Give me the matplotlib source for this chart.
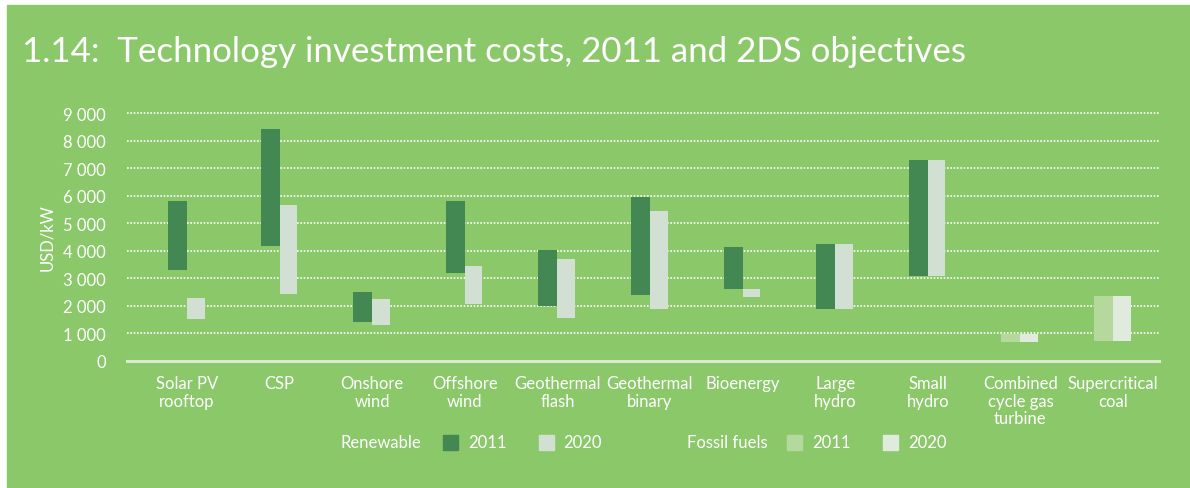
import matplotlib
matplotlib.use("Agg")
import matplotlib.pyplot as plt
from matplotlib.patches import Rectangle

plt.rcParams['font.family'] = ['Lato', 'DejaVu Sans']

# data (USD/kW)
categories = ["Solar PV\nrooftop", "CSP", "Onshore\nwind", "Offshore\nwind",
              "Geothermal\nflash", "Geothermal\nbinary", "Bioenergy",
              "Large\nhydro", "Small\nhydro", "Combined\ncycle gas\nturbine",
              "Supercritical\ncoal"]
is_fossil = [False] * 9 + [True] * 2
low_2011 = [3300, 4170, 1410, 3190, 1990, 2390, 2610, 1880, 3080, 680, 720]
high_2011 = [5810, 8430, 2500, 5810, 4030, 5950, 4140, 4250, 7300, 970, 2350]
low_2020 = [1520, 2430, 1300, 2060, 1550, 1880, 2320, 1880, 3080, 680, 720]
high_2020 = [2280, 5660, 2240, 3440, 3700, 5450, 2610, 4250, 7300, 970, 2350]
yticks = [0, 1000, 2000, 3000, 4000, 5000, 6000, 7000, 8000, 9000]

BG = "#8ac86a"
REN_2011 = "#438752"
REN_2020 = "#d2e0d4"
FOS_2011 = "#b5d89c"
FOS_2020 = "#e0ebdd"
WHITE = "#ffffff"

W, H = 1190, 489
fig = plt.figure(figsize=(W / 100, H / 100), dpi=100, facecolor="white")

# green panel
fig.patches.append(Rectangle((7 / W, 0), 1 - 7 / W, (H - 6) / H,
                             transform=fig.transFigure, color=BG, zorder=-10))

fig.text(22 / W, 1 - 52 / H, "1.14:  Technology investment costs, 2011 and 2DS objectives",
         color=WHITE, fontsize=25.1, va="center", ha="left")

ax = fig.add_axes([127 / W, 1 - 361.7 / H, (1159 - 127) / W, (361.7 - 114.3) / H])
ax.set_facecolor("none")

x = list(range(len(categories)))
c11 = [FOS_2011 if f else REN_2011 for f in is_fossil]
c20 = [FOS_2020 if f else REN_2020 for f in is_fossil]
h11 = [h - l for h, l in zip(high_2011, low_2011)]
h20 = [h - l for h, l in zip(high_2020, low_2020)]
ax.bar(x, h11, bottom=low_2011, width=-0.205, align="edge", color=c11, zorder=3)
ax.bar(x, h20, bottom=low_2020, width=0.19, align="edge", color=c20, zorder=3)

ax.set_xlim(-0.648, 10.497)
ax.set_ylim(0, 9000)
for v in yticks[1:]:
    ax.axhline(v, color=WHITE, linestyle=(0, (1, 1)), linewidth=1.2, zorder=1, clip_on=False)
ax.axhline(0, color="#d8ead0", linewidth=2.2, zorder=2, clip_on=False)

ax.set_yticks(yticks)
ax.set_yticklabels([f"{v:,}".replace(",", " ") for v in yticks])
ax.set_xticks(x)
ax.set_xticklabels(categories, linespacing=1.15)
ax.tick_params(axis="both", length=0, colors=WHITE, labelsize=12)
ax.tick_params(axis="y", pad=15)
ax.tick_params(axis="x", pad=10)
for s in ax.spines.values():
    s.set_visible(False)

ax.set_ylabel("USD/kW", color=WHITE, fontsize=12, labelpad=10)
ax.yaxis.set_label_coords(-72 / (1159 - 127), 0.5)

# legend
ly = 1 - 443 / H
def swatch(px, color):
    fig.patches.append(Rectangle((px / W, ly - 7.5 / H), 15 / W, 15 / H,
                                 transform=fig.transFigure, color=color, zorder=2))

fig.text(341 / W, ly, "Renewable", color=WHITE, fontsize=12, va="center")
swatch(443, REN_2011)
fig.text(468 / W, ly, "2011", color=WHITE, fontsize=12, va="center")
swatch(539, REN_2020)
fig.text(563 / W, ly, "2020", color=WHITE, fontsize=12, va="center")
fig.text(687 / W, ly, "Fossil fuels", color=WHITE, fontsize=12, va="center")
swatch(787, FOS_2011)
fig.text(812 / W, ly, "2011", color=WHITE, fontsize=12, va="center")
swatch(883, FOS_2020)
fig.text(908 / W, ly, "2020", color=WHITE, fontsize=12, va="center")

fig.savefig("out.png", dpi=100, facecolor=fig.get_facecolor())
